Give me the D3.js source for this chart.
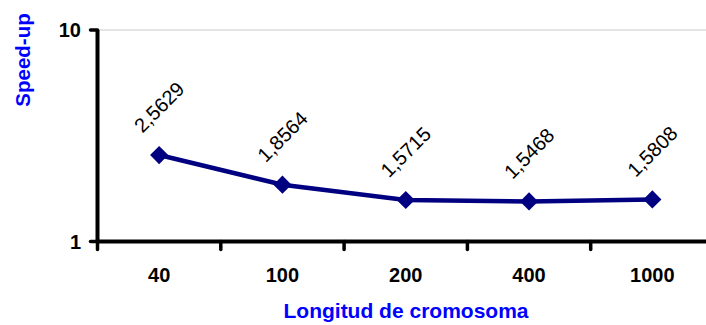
<!DOCTYPE html>
<html><head><meta charset="utf-8">
<script src="https://cdn.jsdelivr.net/npm/d3@7"></script>
<style>body{margin:0;background:#fff}svg{display:block}text{font-family:"Liberation Sans",Arial,sans-serif}</style>
</head><body>
<script>
const categories = ["40","100","200","400","1000"];
const speedup = [2.5629, 1.8564, 1.5715, 1.5468, 1.5808];
const labels = ["2,5629","1,8564","1,5715","1,5468","1,5808"];
const yTicks = [1, 10];

const W = 706, H = 325;
const svg = d3.select("body").append("svg").attr("width", W).attr("height", H);
const x0 = 97.5, yTop = 30, yBot = 241.5;
const x = d3.scaleBand().domain(categories).range([x0, x0 + 5 * 123.3]);
const y = d3.scaleLog().domain([1, 10]).range([yBot, yTop]);

// gridline at 10
svg.append("line").attr("x1", x0).attr("x2", W).attr("y1", y(10)).attr("y2", y(10))
  .attr("stroke", "#dddddd").attr("stroke-width", 1.5);

// x axis
svg.append("line").attr("x1", x0).attr("x2", W).attr("y1", yBot).attr("y2", yBot)
  .attr("stroke", "#000").attr("stroke-width", 4);
const bounds = categories.map(c => x(c)).concat([x0 + 5 * 123.3]);
svg.selectAll(".xt").data(bounds).enter().append("line")
  .attr("x1", d => d).attr("x2", d => d).attr("y1", yBot).attr("y2", yBot + 8)
  .attr("stroke", "#000").attr("stroke-width", 3.5).attr("stroke-linecap", "round");
svg.selectAll(".xl").data(categories).enter().append("text")
  .attr("x", d => x(d) + x.bandwidth() / 2).attr("y", 282)
  .attr("text-anchor", "middle").attr("font-size", 20).attr("font-weight", "bold").text(d => d);

// y axis
svg.append("line").attr("x1", x0).attr("x2", x0).attr("y1", yTop).attr("y2", yBot)
  .attr("stroke", "#000").attr("stroke-width", 4);
svg.selectAll(".yt").data(yTicks).enter().append("line")
  .attr("x1", x0 - 7).attr("x2", x0).attr("y1", d => y(d)).attr("y2", d => y(d))
  .attr("stroke", "#000").attr("stroke-width", 3.5).attr("stroke-linecap", "round");
svg.selectAll(".yl").data(yTicks).enter().append("text")
  .attr("x", 81).attr("y", d => y(d) + 7)
  .attr("text-anchor", "end").attr("font-size", 20).attr("font-weight", "bold").text(d => d);

// titles
svg.append("text").attr("transform", "translate(30,60) rotate(-90)")
  .attr("text-anchor", "middle").attr("font-size", 20.5).attr("font-weight", "bold")
  .attr("fill", "#0000ff").text("Speed-up");
svg.append("text").attr("x", 406).attr("y", 318)
  .attr("text-anchor", "middle").attr("font-size", 21).attr("font-weight", "bold")
  .attr("fill", "#0000ff").text("Longitud de cromosoma");

// line
const cx = (d, i) => x(categories[i]) + x.bandwidth() / 2;
const line = d3.line().x((d, i) => cx(d, i)).y(d => y(d));
svg.append("path").datum(speedup).attr("d", line)
  .attr("fill", "none").attr("stroke", "#000080").attr("stroke-width", 4.5);
svg.selectAll(".pt").data(speedup).enter().append("path")
  .attr("d", d3.symbol().type(d3.symbolDiamond2 || d3.symbolSquare).size(210))
  .attr("transform", (d, i) => `translate(${cx(d, i)},${y(d)}) rotate(${d3.symbolDiamond2 ? 0 : 45})`)
  .attr("fill", "#000080");

// data labels
svg.selectAll(".dl").data(speedup).enter().append("text")
  .attr("transform", (d, i) => `translate(${cx(d, i)},${y(d) - 48}) rotate(-45)`)
  .attr("text-anchor", "middle").attr("dominant-baseline", "central")
  .attr("font-size", 20).text((d, i) => labels[i]);
</script>
</body></html>
